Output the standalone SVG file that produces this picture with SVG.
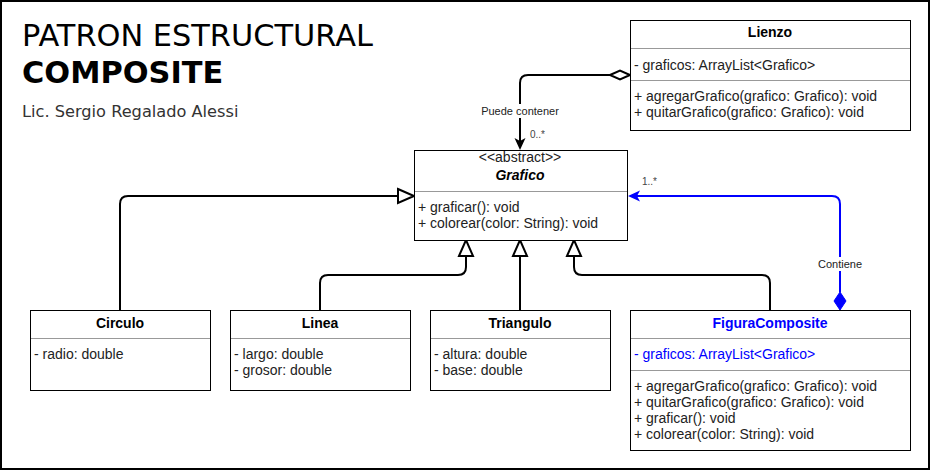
<svg xmlns="http://www.w3.org/2000/svg" width="931" height="471" viewBox="0 0 931 471">
<style>
.box{fill:#fff;stroke:#000;stroke-width:1}
.sep{stroke:#999;stroke-width:1}
.t{font-family:"Liberation Sans",Arial,sans-serif;font-size:14px;fill:#222}
.h{font-family:"Liberation Sans",Arial,sans-serif;font-size:14px;font-weight:bold;fill:#000;text-anchor:middle}
.c{text-anchor:middle}
.blue{fill:#0000ff}
.edge{fill:none;stroke:#000;stroke-width:2}
.edgeb{fill:none;stroke:#0000ff;stroke-width:2}
.lbl{font-family:"Liberation Sans",Arial,sans-serif;font-size:11px;fill:#222;text-anchor:middle}
.mult{font-family:"Liberation Sans",Arial,sans-serif;font-size:10px;fill:#444}
</style>
<defs>
<marker id="gen" markerUnits="userSpaceOnUse" viewBox="-2 -9 20 18" markerWidth="20" markerHeight="18" refX="0" refY="0" orient="auto">
<path d="M0,-7 L16,0 L0,7 Z" fill="#fff" stroke="#000" stroke-width="2"/>
</marker>
<marker id="arr" markerUnits="userSpaceOnUse" viewBox="-4 -7 14 14" markerWidth="14" markerHeight="14" refX="0" refY="0" orient="auto">
<path d="M9,0 L-3,-5.5 L0,0 L-3,5.5 Z" fill="#000"/>
</marker>
<marker id="arrb" markerUnits="userSpaceOnUse" viewBox="-4 -7 14 14" markerWidth="14" markerHeight="14" refX="0" refY="0" orient="auto">
<path d="M9,0 L-3,-5.5 L0,0 L-3,5.5 Z" fill="#0000ff"/>
</marker>
<marker id="agg" markerUnits="userSpaceOnUse" viewBox="-2 -7 24 14" markerWidth="24" markerHeight="14" refX="0" refY="0" orient="auto-start-reverse">
<path d="M0,0 L10,-4.5 L20,0 L10,4.5 Z" fill="#fff" stroke="#000" stroke-width="2"/>
</marker>
<marker id="comp" markerUnits="userSpaceOnUse" viewBox="-2 -8 22 16" markerWidth="22" markerHeight="16" refX="0" refY="0" orient="auto-start-reverse">
<path d="M0,0 L9,-6 L18,0 L9,6 Z" fill="#0000ff" stroke="#0000ff" stroke-width="1"/>
</marker>
</defs>
<rect x="1" y="1" width="928" height="468" fill="#fff" stroke="#000" stroke-width="2"/>
<g id="title">
<text x="22" y="46" font-family="DejaVu Sans,Verdana,sans-serif" font-size="30.4" fill="#000">PATRON ESTRUCTURAL</text>
<text x="22" y="83" font-family="DejaVu Sans,Verdana,sans-serif" font-size="30.4" font-weight="bold" fill="#000">COMPOSITE</text>
<text x="22" y="117" font-family="DejaVu Sans,Verdana,sans-serif" font-size="16.2" fill="#333">Lic. Sergio Regalado Alessi</text>
</g>
<g id="connectors">
<path class="edge" d="M610,75 L528,75 Q520,75 520,83 L520,141" marker-start="url(#agg)" marker-end="url(#arr)"/>
<rect x="481" y="104" width="78" height="14" fill="#fff"/>
<text class="lbl" x="520" y="115">Puede contener</text>
<text class="mult" x="530" y="138">0..*</text>
<path class="edgeb" d="M840,292 L840,204 Q840,196 832,196 L637,196" marker-start="url(#comp)" marker-end="url(#arrb)"/>
<rect x="817" y="257" width="46" height="14" fill="#fff"/>
<text class="lbl" x="840" y="268">Contiene</text>
<text class="mult" x="642" y="185">1..*</text>
<path class="edge" d="M120,310 L120,204 Q120,196 128,196 L398,196" marker-end="url(#gen)"/>
<path class="edge" d="M320,310 L320,283 Q320,275 328,275 L458,275 Q466,275 466,267 L466,256" marker-end="url(#gen)"/>
<path class="edge" d="M520,310 L520,256" marker-end="url(#gen)"/>
<path class="edge" d="M770,310 L770,283 Q770,275 762,275 L582,275 Q574,275 574,267 L574,256" marker-end="url(#gen)"/>
</g>
<g id="Lienzo">
<rect class="box" x="630.5" y="20.5" width="280" height="110"/>
<line class="sep" x1="631" y1="48.5" x2="910" y2="48.5"/>
<line class="sep" x1="631" y1="80.5" x2="910" y2="80.5"/>
<text class="h" x="770" y="37">Lienzo</text>
<text class="t" x="634" y="70">- graficos: ArrayList&lt;Grafico&gt;</text>
<text class="t" x="634" y="101">+ agregarGrafico(grafico: Grafico): void</text>
<text class="t" x="634" y="117">+ quitarGrafico(grafico: Grafico): void</text>
</g>
<g id="Grafico">
<rect class="box" x="414.5" y="150.5" width="213" height="90"/>
<line class="sep" x1="415" y1="191.5" x2="627" y2="191.5"/>
<text class="t c" x="520" y="162">&lt;&lt;abstract&gt;&gt;</text>
<text class="h" x="520" y="180" font-style="italic">Grafico</text>
<text class="t" x="418" y="212">+ graficar(): void</text>
<text class="t" x="418" y="228">+ colorear(color: String): void</text>
</g>
<g id="Circulo">
<rect class="box" x="30.5" y="310.5" width="180" height="80"/>
<line class="sep" x1="31" y1="338.5" x2="210" y2="338.5"/>
<text class="h" x="120" y="328">Circulo</text>
<text class="t" x="34" y="359">- radio: double</text>
</g>
<g id="Linea">
<rect class="box" x="230.5" y="310.5" width="180" height="80"/>
<line class="sep" x1="231" y1="338.5" x2="410" y2="338.5"/>
<text class="h" x="320" y="328">Linea</text>
<text class="t" x="234" y="359">- largo: double</text>
<text class="t" x="234" y="375">- grosor: double</text>
</g>
<g id="Triangulo">
<rect class="box" x="430.5" y="310.5" width="180" height="80"/>
<line class="sep" x1="431" y1="338.5" x2="610" y2="338.5"/>
<text class="h" x="520" y="328">Triangulo</text>
<text class="t" x="434" y="359">- altura: double</text>
<text class="t" x="434" y="375">- base: double</text>
</g>
<g id="FiguraComposite">
<rect class="box" x="630.5" y="310.5" width="280" height="140"/>
<line class="sep" x1="631" y1="338.5" x2="910" y2="338.5"/>
<line class="sep" x1="631" y1="370.5" x2="910" y2="370.5"/>
<text class="h blue" x="770" y="328">FiguraComposite</text>
<text class="t blue" x="634" y="359">- graficos: ArrayList&lt;Grafico&gt;</text>
<text class="t" x="634" y="391">+ agregarGrafico(grafico: Grafico): void</text>
<text class="t" x="634" y="407">+ quitarGrafico(grafico: Grafico): void</text>
<text class="t" x="634" y="423">+ graficar(): void</text>
<text class="t" x="634" y="439">+ colorear(color: String): void</text>
</g>
</svg>
